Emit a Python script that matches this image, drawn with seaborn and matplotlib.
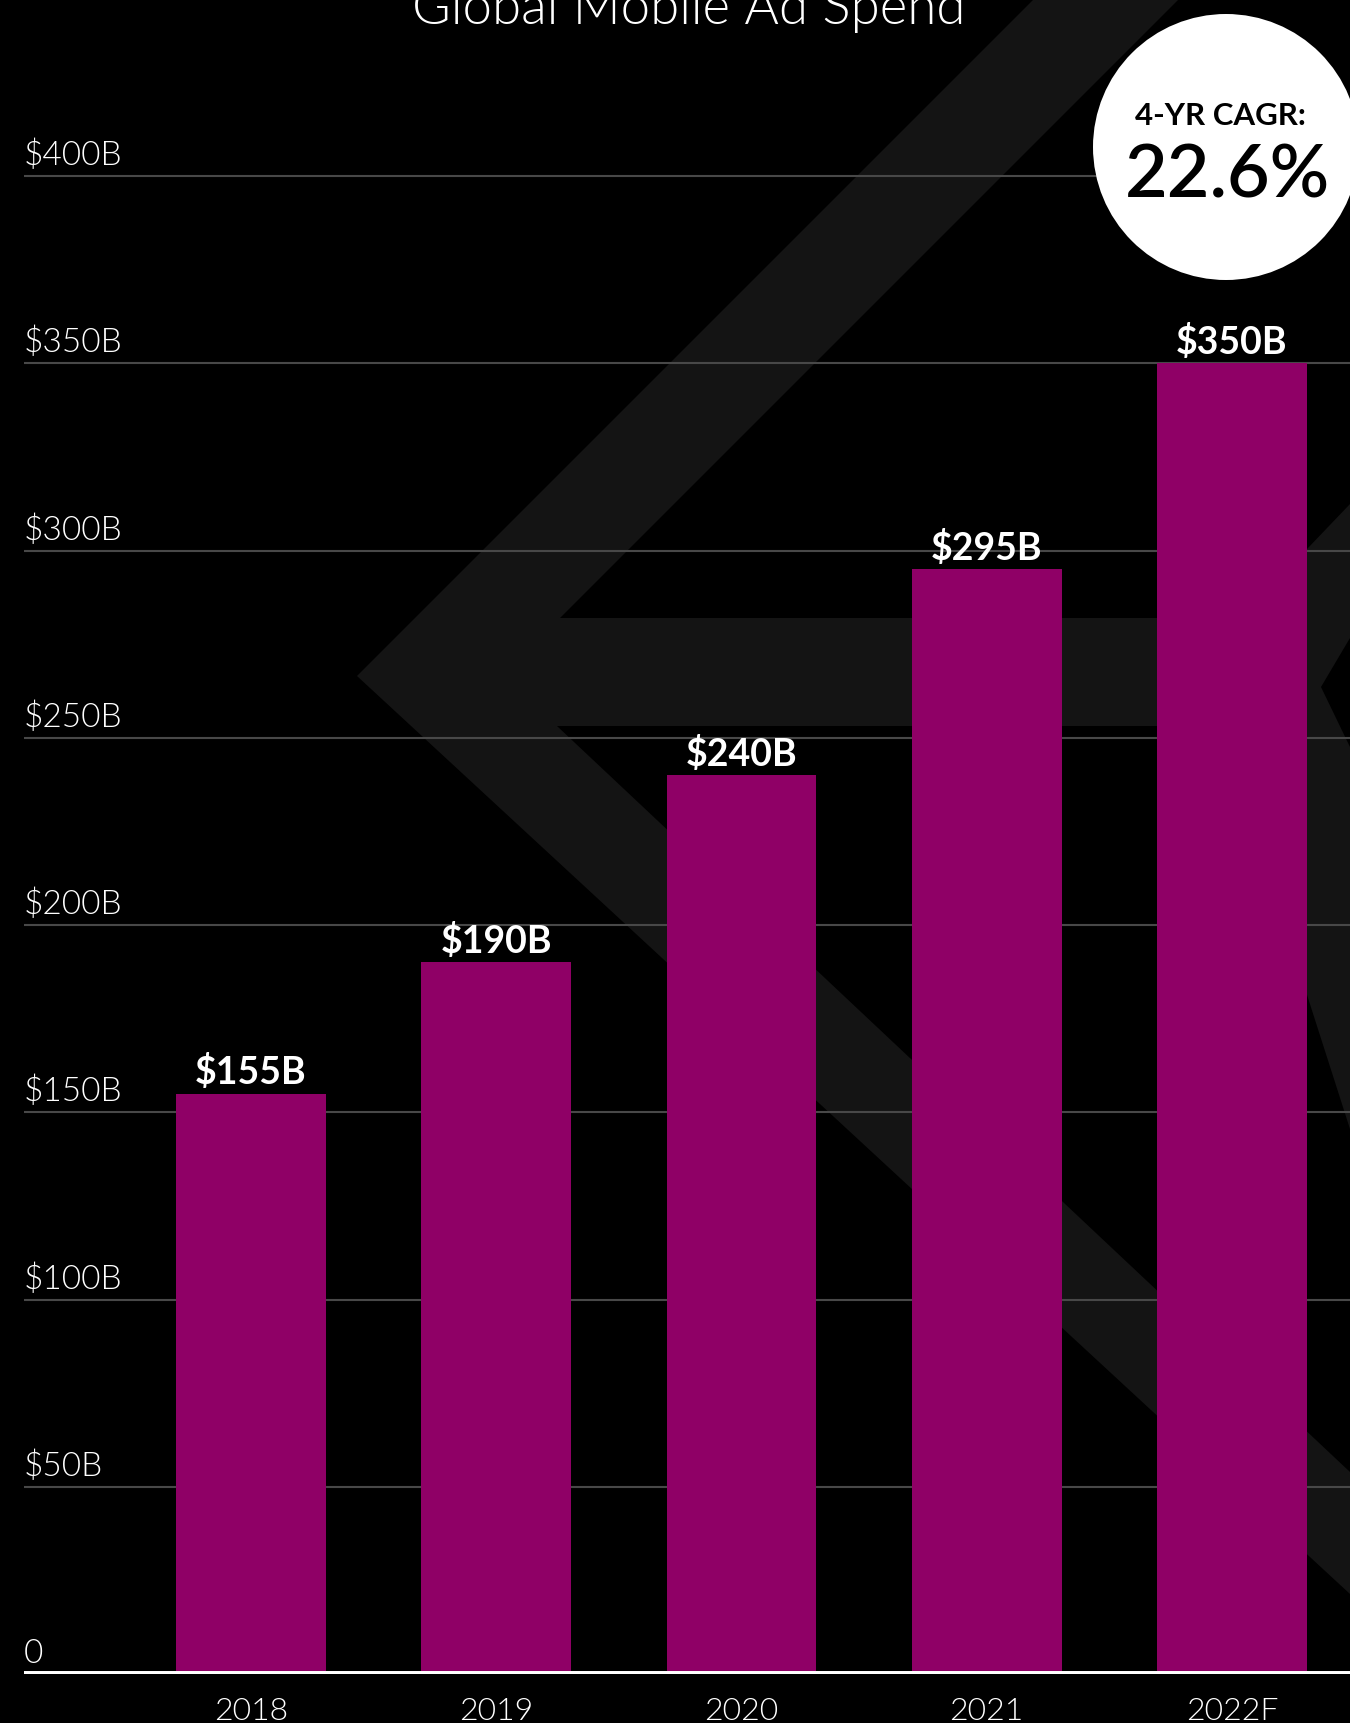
import numpy as np
import pandas as pd
import seaborn as sns
import matplotlib.pyplot as plt
from matplotlib.patches import Polygon, Circle

# data
years = ["2018", "2019", "2020", "2021", "2022F"]
spend = [155, 190, 240, 295, 350]
bar_labels = ["$155B", "$190B", "$240B", "$295B", "$350B"]
y_ticks = [0, 50, 100, 150, 200, 250, 300, 350, 400]
y_tick_labels = ["0", "$50B", "$100B", "$150B", "$200B", "$250B", "$300B", "$350B", "$400B"]
title = "Global Mobile Ad Spend"
cagr_head = "4-YR CAGR:"
cagr_value = "22.6%"

bar_color = "#8f0066"
grid_color = "#484848"
bg_shape = "#141414"

sns.set_theme(style="dark")
plt.rcParams["font.family"] = ["Lato", "DejaVu Sans"]

W, H = 1350, 1724
fig = plt.figure(figsize=(W / 100, H / 100), dpi=100, facecolor="black")

# px (from top-left) -> inches for fig.dpi_scale_trans
def px(pts):
    return [(x / 100, (H - y) / 100) for x, y in pts]

# watermark chevrons behind the chart
chevron = [(1034, 0), (357, 677), (1350, 1595), (1350, 1473), (557, 727),
           (1250, 727), (1250, 619), (560, 619), (1179, 0)]
chevron2 = [(1350, 505), (1200, 662), (1350, 1130), (1350, 748),
            (1321, 688), (1350, 639)]
for shp in (chevron, chevron2):
    fig.patches.append(Polygon(px(shp), closed=True, transform=fig.dpi_scale_trans,
                               facecolor=bg_shape, edgecolor="none", zorder=-5))

ax = fig.add_axes([24 / W, (H - 1675) / H, 1 - 24 / W, 1675 / H])
ax.set_facecolor("none")

df = pd.DataFrame({"year": years, "spend": spend})
sns.barplot(data=df, x="year", y="spend", color=bar_color, saturation=1,
            width=0.61, ax=ax, zorder=3, edgecolor="none", linewidth=0)

ax.set_xlim(-0.925, 4.481)
ax.set_ylim(0, 1675 / 3.745)
ax.set_yticks(y_ticks)
ax.set_xticks(range(len(years)))
ax.grid(axis="y", color=grid_color, linewidth=1.5)
ax.grid(axis="x", visible=False)
ax.set_axisbelow(True)
ax.tick_params(length=0, labelbottom=False, labelleft=False)
ax.set_xlabel("")
ax.set_ylabel("")
for s in ax.spines.values():
    s.set_visible(False)

ax.axhline(0, color="white", linewidth=4.3, zorder=4)

for val, lab in zip(y_ticks, y_tick_labels):
    ax.annotate(lab, xy=(0, val), xycoords=("axes fraction", "data"),
                xytext=(0, 8.5), textcoords="offset points", ha="left",
                va="baseline", color="white", fontsize=24, fontweight=300)

for i, (v, lab) in enumerate(zip(spend, bar_labels)):
    ax.annotate(lab, xy=(i, v), xytext=(0, 7.5), textcoords="offset points",
                ha="center", va="baseline", color="white", fontsize=27,
                fontweight="bold", zorder=5)

for i, yr in enumerate(years):
    ax.annotate(yr, xy=(i, 0), xycoords=("data", "axes fraction"),
                xytext=(0, -32.4), textcoords="offset points", ha="center",
                va="baseline", color="white", fontsize=23, fontweight=300)

fig.text(689 / W, 1 - 24 / H, title, ha="center", va="baseline",
         color="white", fontsize=38, fontweight=300)

fig.patches.append(Circle((1226 / 100, (H - 148) / 100), 1.33,
                          transform=fig.dpi_scale_trans, facecolor="white",
                          edgecolor="none", zorder=5))
fig.text(1220 / W, 1 - 125 / H, cagr_head, ha="center", va="baseline",
         color="black", fontsize=22.5, fontweight="bold", zorder=6)
fig.text(1227 / W, 1 - 197 / H, cagr_value, ha="center", va="baseline",
         color="black", fontsize=53, fontweight="semibold", zorder=6)

fig.savefig("out.png", dpi=100, facecolor="black")
